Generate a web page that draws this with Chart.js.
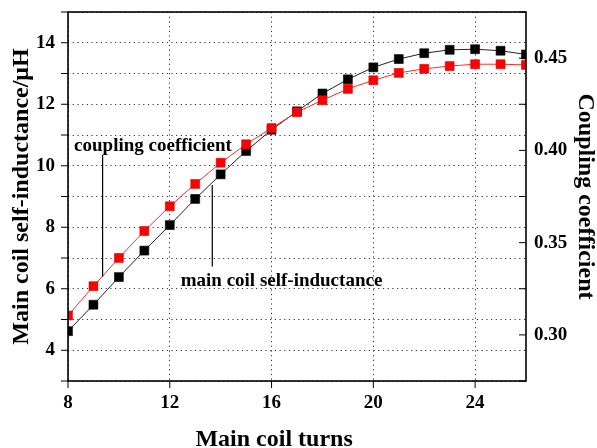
<!DOCTYPE html>
<html>
<head>
<meta charset="utf-8">
<script src="https://cdn.jsdelivr.net/npm/chart.js@4"></script>
<style>
  html, body { margin: 0; padding: 0; background: #fff; }
  #wrap { width: 597px; height: 448px; }
</style>
</head>
<body>
<div id="wrap"><canvas id="coilChart" width="597" height="448"></canvas></div>
<script>
const turns = [8, 9, 10, 11, 12, 13, 14, 15, 16, 17, 18, 19, 20, 21, 22, 23, 24, 25, 26];
const selfInductance = [4.62, 5.48, 6.38, 7.24, 8.07, 8.92, 9.72, 10.48, 11.17, 11.77, 12.35, 12.81, 13.2, 13.47, 13.66, 13.77, 13.79, 13.74, 13.62];
const couplingCoef = [0.3105, 0.3264, 0.3417, 0.3563, 0.3697, 0.3818, 0.3933, 0.4033, 0.4121, 0.4207, 0.4272, 0.4333, 0.438, 0.442, 0.4442, 0.4457, 0.4467, 0.4467, 0.4463];
const xTicks = [8, 12, 16, 20, 24];
const leftTicks = [3, 4, 5, 6, 7, 8, 9, 10, 11, 12, 13, 14, 15];
const rightTicks = [0.275, 0.3, 0.325, 0.35, 0.375, 0.4, 0.425, 0.45, 0.475];

const serif = '"Liberation Serif", "Times New Roman", serif';

// frame, tick marks, x title (sits left of centre in the original) and the two leader lines
const frameAndNotes = {
  id: 'frameAndNotes',
  afterDraw(chart) {
    const { ctx, chartArea: a, scales } = chart;
    const line = (x1, y1, x2, y2) => { ctx.beginPath(); ctx.moveTo(x1, y1); ctx.lineTo(x2, y2); ctx.stroke(); };
    ctx.save();
    ctx.strokeStyle = '#000';
    ctx.lineWidth = 1;
    scales.x.ticks.forEach(t => {
      const px = scales.x.getPixelForValue(t.value);
      line(px, a.bottom, px, a.bottom + 7);
    });
    scales.y.ticks.forEach(t => {
      const py = scales.y.getPixelForValue(t.value);
      line(a.left - 7, py, a.left, py);
    });
    scales.y1.ticks.forEach(t => {
      const py = scales.y1.getPixelForValue(t.value);
      line(a.right - 7, py, a.right, py);
    });
    ctx.lineWidth = 1.6;
    ctx.strokeRect(a.left, a.top, a.right - a.left, a.bottom - a.top);

    const X = v => scales.x.getPixelForValue(v);
    const Y = v => scales.y.getPixelForValue(v);
    ctx.lineWidth = 1.2;
    line(X(9.36), Y(10.35), X(9.36), Y(6.39));
    line(X(13.67), Y(9.37), X(13.67), Y(6.72));
    ctx.fillStyle = '#000';
    ctx.font = 'bold 19px ' + serif;
    ctx.textBaseline = 'middle';
    ctx.fillText('coupling coefficient', X(8.24), Y(10.65));
    ctx.fillText('main coil self-inductance', X(12.43), Y(6.26));

    ctx.font = 'bold 24px ' + serif;
    ctx.textAlign = 'center';
    ctx.textBaseline = 'alphabetic';
    ctx.fillText('Main coil turns', X(16.1), a.bottom + 65);
    ctx.restore();
  }
};

const noPad = s => { s.paddingTop = 0; s.paddingBottom = 0; s.paddingLeft = 0; s.paddingRight = 0; };

new Chart(document.getElementById('coilChart'), {
  type: 'line',
  data: {
    datasets: [{
      label: 'coupling coefficient',
      data: turns.map((t, i) => ({ x: t, y: couplingCoef[i] })),
      yAxisID: 'y1',
      order: 0,
      borderColor: '#ff2a2a',
      borderWidth: 1,
      pointStyle: 'rect',
      pointRadius: 6.3,
      pointBackgroundColor: '#ff0000',
      pointBorderColor: '#d40000',
      pointBorderWidth: 0.6
    }, {
      label: 'main coil self-inductance',
      data: turns.map((t, i) => ({ x: t, y: selfInductance[i] })),
      yAxisID: 'y',
      order: 1,
      borderColor: '#222',
      borderWidth: 1,
      pointStyle: 'rect',
      pointRadius: 6.3,
      pointBackgroundColor: '#000',
      pointBorderColor: '#000',
      pointBorderWidth: 0.6
    }]
  },
  options: {
    responsive: false,
    animation: false,
    layout: { padding: { top: 12, right: 0, bottom: 0, left: 0 } },
    plugins: { legend: { display: false }, tooltip: { enabled: false } },
    scales: {
      x: {
        type: 'linear',
        min: 8,
        max: 26,
        afterBuildTicks: s => { s.ticks = xTicks.map(v => ({ value: v })); },
        afterFit: s => { s.height = 67; noPad(s); },
        grid: { color: '#333', lineWidth: 1, drawTicks: false },
        border: { display: false, dash: [1.2, 3.5] },
        ticks: { color: '#000', padding: 11, font: { family: serif, weight: 'bold', size: 19 }, maxRotation: 0 },
        title: { display: false }
      },
      y: {
        position: 'left',
        min: 3,
        max: 15,
        afterBuildTicks: s => { s.ticks = leftTicks.map(v => ({ value: v })); },
        afterFit: s => { s.width = 68; noPad(s); },
        grid: { color: '#333', lineWidth: 1, drawTicks: false },
        border: { display: false, dash: [1.2, 3.5] },
        ticks: {
          color: '#000', padding: 13, autoSkip: false,
          font: { family: serif, weight: 'bold', size: 19 },
          callback: v => (v % 2 === 0 ? v : '')
        },
        title: { display: true, text: 'Main coil self-inductance/μH', color: '#000', padding: { top: 9.5, bottom: 0 }, font: { family: serif, weight: 'bold', size: 24, lineHeight: 1 } }
      },
      y1: {
        position: 'right',
        min: 0.275,
        max: 0.475,
        afterBuildTicks: s => { s.ticks = rightTicks.map(v => ({ value: v })); },
        afterFit: s => { s.width = 71; noPad(s); },
        grid: { drawOnChartArea: false, drawTicks: false },
        border: { display: false },
        ticks: {
          color: '#000', padding: 8, autoSkip: false,
          font: { family: serif, weight: 'bold', size: 19 },
          callback: v => (Math.round(v * 1000) % 50 === 0 ? v.toFixed(2) : '')
        },
        title: { display: true, text: 'Coupling coefficient', color: '#000', padding: { top: 0, bottom: 0 }, font: { family: serif, weight: 'bold', size: 24, lineHeight: 1 } }
      }
    }
  },
  plugins: [frameAndNotes]
});
</script>
</body>
</html>
